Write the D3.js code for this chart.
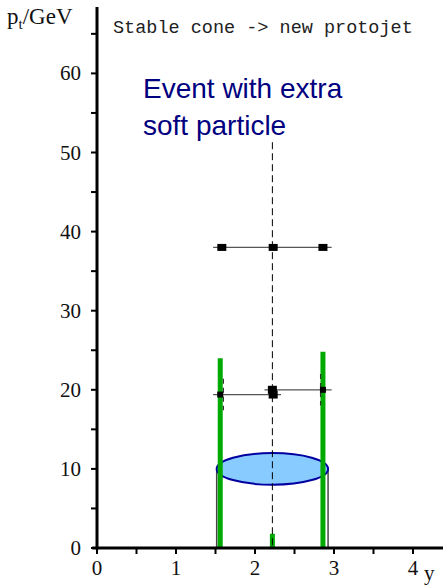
<!DOCTYPE html>
<html lang="en">
<head>
    <meta charset="UTF-8">
    <title>Stable cone -> new protojet</title>
    <script src="https://d3js.org/d3.v7.min.js"></script>
    <style>
        body { margin: 0; background: white; }
        svg { display: block; }
        .tick-label { font-family: "Liberation Serif", serif; font-size: 21px; fill: #111; }
    </style>
</head>
<body>
    <svg id="chart" width="443" height="587"></svg>

    <script>
        // axis ticks and labels
        const xTicks = [0, 0.5, 1, 1.5, 2, 2.5, 3, 3.5, 4];
        const xLabels = [0, 1, 2, 3, 4];
        const yTicks = [0, 5, 10, 15, 20, 25, 30, 35, 40, 45, 50, 55, 60, 65];
        const yLabels = [0, 10, 20, 30, 40, 50, 60];

        // particles (rapidity, pt)
        const particleY = [1.56, 2.22, 2.86];
        const particlePt = [24.0, 1.8, 24.8];

        // cone around the stable axis
        const coneAxisY = 2.22;
        const coneAxisTop = 51.3;
        const coneLevel = 10;
        const coneRadius = 0.705;
        const coneDepth = 2.0;

        // stable cone protojet (top row)
        const stablePt = 38.0;
        const stableSpan = [1.47, 2.97];
        const stableMarks = [1.58, 2.23, 2.86];

        // the two split rows around 20 GeV
        const splitPt = [19.4, 20.0];
        const splitSpan = [[1.47, 2.33], [2.12, 2.97]];
        const splitCentre = [2.23, 2.22];
        const splitEdge = [1.56, 2.86];
        const splitWhisker = [1.6, 2.83];

        const svg = d3.select("#chart");

        const x = d3.scaleLinear().domain([0, 4]).range([97, 413]);
        const y = d3.scaleLinear().domain([0, 60]).range([548, 73.4]);

        // cylinder sides
        [coneAxisY - coneRadius, coneAxisY + coneRadius].forEach(v => {
            svg.append("line")
                .attr("x1", x(v)).attr("x2", x(v))
                .attr("y1", y(coneLevel)).attr("y2", y(0))
                .attr("stroke", "#444").attr("stroke-width", 1.5);
        });

        // ellipse
        svg.append("ellipse")
            .attr("cx", x(coneAxisY))
            .attr("cy", y(coneLevel))
            .attr("rx", x(coneRadius) - x(0))
            .attr("ry", y(0) - y(coneDepth))
            .attr("fill", "#88ccff")
            .attr("stroke", "#0000a0")
            .attr("stroke-width", 2);

        // particles
        svg.selectAll(".particle")
            .data(d3.zip(particleY, particlePt))
            .enter()
            .append("line")
            .attr("x1", d => x(d[0])).attr("x2", d => x(d[0]))
            .attr("y1", y(0)).attr("y2", d => y(d[1]))
            .attr("stroke", "#00aa00")
            .attr("stroke-width", 5);

        // dashed axis of the cone
        svg.append("line")
            .attr("x1", x(coneAxisY)).attr("x2", x(coneAxisY))
            .attr("y1", y(coneAxisTop)).attr("y2", y(0))
            .attr("stroke", "#000")
            .attr("stroke-width", 1)
            .attr("stroke-dasharray", "7,4");

        // split rows
        splitPt.forEach((pt, i) => {
            svg.append("line")
                .attr("x1", x(splitWhisker[i])).attr("x2", x(splitWhisker[i]))
                .attr("y1", y(pt + 2)).attr("y2", y(pt - 2))
                .attr("stroke", "#333").attr("stroke-width", 1.2)
                .attr("stroke-dasharray", "5,4");
            svg.append("line")
                .attr("x1", x(splitSpan[i][0])).attr("x2", x(splitSpan[i][1]))
                .attr("y1", y(pt)).attr("y2", y(pt))
                .attr("stroke", "#555").attr("stroke-width", 1.3);
            svg.append("rect")
                .attr("x", x(splitEdge[i]) - 3).attr("y", y(pt) - 3)
                .attr("width", 6).attr("height", 6)
                .attr("fill", "#000");
            svg.append("rect")
                .attr("x", x(splitCentre[i]) - 4.5).attr("y", y(pt) - 4)
                .attr("width", 9).attr("height", 8)
                .attr("fill", "#000");
        });

        // stable row
        svg.append("line")
            .attr("x1", x(stableSpan[0])).attr("x2", x(stableSpan[1]))
            .attr("y1", y(stablePt)).attr("y2", y(stablePt))
            .attr("stroke", "#555").attr("stroke-width", 1.3);
        svg.selectAll(".stable")
            .data(stableMarks)
            .enter()
            .append("rect")
            .attr("x", d => x(d) - 4.5).attr("y", y(stablePt) - 3.5)
            .attr("width", 9).attr("height", 7)
            .attr("fill", "#000");

        // axes
        svg.append("line")
            .attr("x1", x(-0.06)).attr("x2", 443)
            .attr("y1", y(0)).attr("y2", y(0))
            .attr("stroke", "#000").attr("stroke-width", 3);
        svg.append("line")
            .attr("x1", x(0)).attr("x2", x(0))
            .attr("y1", y(0) + 1.5).attr("y2", y(68.4))
            .attr("stroke", "#000").attr("stroke-width", 3);

        svg.selectAll(".xtick")
            .data(xTicks)
            .enter()
            .append("line")
            .attr("x1", d => x(d)).attr("x2", d => x(d))
            .attr("y1", y(0)).attr("y2", y(0) + 6)
            .attr("stroke", "#000").attr("stroke-width", 2);
        svg.selectAll(".ytick")
            .data(yTicks)
            .enter()
            .append("line")
            .attr("x1", x(0) - 6).attr("x2", x(0))
            .attr("y1", d => y(d)).attr("y2", d => y(d))
            .attr("stroke", "#000").attr("stroke-width", 2);

        svg.selectAll(".xlabel")
            .data(xLabels)
            .enter()
            .append("text")
            .attr("class", "tick-label")
            .attr("x", d => x(d))
            .attr("y", y(0) + 27)
            .attr("text-anchor", "middle")
            .text(d => d);
        svg.selectAll(".ylabel")
            .data(yLabels)
            .enter()
            .append("text")
            .attr("class", "tick-label")
            .attr("x", x(0) - 16)
            .attr("y", d => y(d) + 7)
            .attr("text-anchor", "end")
            .text(d => d);

        svg.append("text")
            .attr("class", "tick-label")
            .attr("x", 424).attr("y", 580)
            .text("y");

        const ptLabel = svg.append("text")
            .attr("x", 7).attr("y", 24)
            .style("font-family", "Liberation Serif, serif")
            .style("font-size", "23px")
            .attr("fill", "#111");
        ptLabel.append("tspan").text("p");
        ptLabel.append("tspan").attr("dy", 5).style("font-size", "15px").text("t");
        ptLabel.append("tspan").attr("dy", -5).text("/GeV");

        svg.append("text")
            .attr("x", 113).attr("y", 33)
            .style("font-family", "Liberation Mono, monospace")
            .style("font-size", "18.5px")
            .attr("fill", "#222")
            .text("Stable cone -> new protojet");

        const note = svg.append("g")
            .style("font-family", "Liberation Sans, sans-serif")
            .style("font-size", "28px")
            .attr("fill", "#000080");
        note.append("text").attr("x", 143).attr("y", 98).text("Event with extra");
        note.append("text").attr("x", 143).attr("y", 135).text("soft particle");
    </script>
</body>
</html>
